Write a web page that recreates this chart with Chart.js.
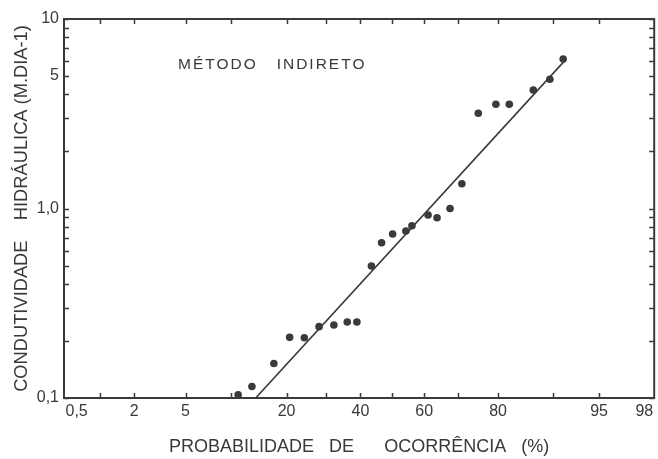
<!DOCTYPE html>
<html>
<head>
<meta charset="utf-8">
<script src="https://cdn.jsdelivr.net/npm/chart.js@4"></script>
<style>
   html, body { margin: 0; padding: 0; background: #fff; }
   #chart { display: block; }
</style>
</head>
<body>
<canvas id="chart" width="658" height="459"></canvas>
<script>
// probabilidade de ocorrencia (%) e condutividade (m/dia)
var probOcorrencia = [11.0, 13.2, 17.3, 20.7, 24.2, 28.0, 32.1, 36.0, 38.9, 43.4, 46.6, 50.1,
   54.3, 56.2, 61.2, 63.9, 67.7, 71.0, 75.3, 79.5, 82.4, 86.9, 89.5, 91.3];
var condutividade = [0.104, 0.115, 0.152, 0.209, 0.208, 0.238, 0.243, 0.252, 0.252, 0.497, 0.66, 0.733,
   0.761, 0.811, 0.924, 0.894, 1.0, 1.35, 3.18, 3.55, 3.55, 4.22, 4.81, 6.15];

// reta ajustada (extremos)
var retaProb = [13.85, 91.5];
var retaK = [0.1, 6.03];

// eixo x (papel de probabilidade)
var xLimites = [0.45, 98.14];
var xMarcas = [1, 2, 5, 10, 20, 30, 40, 50, 60, 70, 80, 90, 95];
var xRotulos = [0.5, 2, 5, 20, 40, 60, 80, 95, 98];
var xTextos = ["0,5", "2", "5", "20", "40", "60", "80", "95", "98"];

// eixo y (log)
var yLimites = [0.1, 10];
var yMarcas = [0.1, 0.2, 0.3, 0.4, 0.5, 0.6, 0.7, 0.8, 0.9, 1, 2, 3, 4, 5, 6, 7, 8, 9, 10];
var yRotulos = { "0.1": "0,1", "1": "1,0", "5": "5", "10": "10" };

var tinta = "#3a3a3a";
var texto = "#393939";
var fonte = "'Liberation Sans', Arial, sans-serif";

// inversa da normal padrao (Acklam)
function zOf(pct) {
   var p = pct / 100;
   var a = [-3.969683028665376e+01, 2.209460984245205e+02, -2.759285104469687e+02, 1.383577518672690e+02, -3.066479806614716e+01, 2.506628277459239e+00];
   var b = [-5.447609879822406e+01, 1.615858368580409e+02, -1.556989798598866e+02, 6.680131188771972e+01, -1.328068155288572e+01];
   var c = [-7.784894002430293e-03, -3.223964580411365e-01, -2.400758277161838e+00, -2.549671416085924e+00, 4.374664141464968e+00, 2.938163982698783e+00];
   var d = [7.784695709041462e-03, 3.224671290700398e-01, 2.445134137142996e+00, 3.754408661907416e+00];
   var plow = 0.02425, q, r;
   if (p < plow) {
      q = Math.sqrt(-2 * Math.log(p));
      return (((((c[0]*q+c[1])*q+c[2])*q+c[3])*q+c[4])*q+c[5]) / ((((d[0]*q+d[1])*q+d[2])*q+d[3])*q+1);
   }
   if (p > 1 - plow) {
      q = Math.sqrt(-2 * Math.log(1 - p));
      return -(((((c[0]*q+c[1])*q+c[2])*q+c[3])*q+c[4])*q+c[5]) / ((((d[0]*q+d[1])*q+d[2])*q+d[3])*q+1);
   }
   q = p - 0.5;
   r = q * q;
   return (((((a[0]*r+a[1])*r+a[2])*r+a[3])*r+a[4])*r+a[5])*q / (((((b[0]*r+b[1])*r+b[2])*r+b[3])*r+b[4])*r+1);
}

var pontos = probOcorrencia.map(function (p, i) { return { x: zOf(p), y: condutividade[i] }; });
var reta = retaProb.map(function (p, i) { return { x: zOf(p), y: retaK[i] }; });

// moldura, marcas internas e rotulos do eixo x
var moldura = {
   id: "moldura",
   beforeDatasetsDraw: function (chart) {
      var ctx = chart.ctx;
      var area = chart.chartArea;
      var sx = chart.scales.x, sy = chart.scales.y;
      ctx.save();
      ctx.strokeStyle = tinta;
      ctx.lineWidth = 1.5;
      ctx.beginPath();
      xMarcas.forEach(function (p) {
         var px = Math.round(sx.getPixelForValue(zOf(p))) + 0.5;
         ctx.moveTo(px, area.bottom); ctx.lineTo(px, area.bottom - 5);
         ctx.moveTo(px, area.top); ctx.lineTo(px, area.top + 5);
      });
      yMarcas.forEach(function (v) {
         var py = Math.round(sy.getPixelForValue(v)) + 0.5;
         ctx.moveTo(area.left, py); ctx.lineTo(area.left + 5, py);
         ctx.moveTo(area.right, py); ctx.lineTo(area.right - 5, py);
      });
      ctx.stroke();
      ctx.lineWidth = 2;
      ctx.strokeRect(area.left, area.top, area.right - area.left, area.bottom - area.top);

      ctx.fillStyle = texto;
      ctx.font = "16px " + fonte;
      ctx.textAlign = "center";
      ctx.textBaseline = "middle";
      xRotulos.forEach(function (p, i) {
         var w = ctx.measureText(xTextos[i]).width;
         var px = sx.getPixelForValue(zOf(p));
         px = Math.max(area.left + w / 2 + 1.5, Math.min(area.right - w / 2 - 1, px));
         ctx.fillText(xTextos[i], px, area.bottom + 14);
      });

      ctx.font = "15.5px " + fonte;
      ctx.letterSpacing = "2px";
      ctx.textAlign = "left";
      ctx.textBaseline = "alphabetic";
      ctx.fillText("MÉTODO   INDIRETO", area.left + 114, area.top + 49.5);
      ctx.restore();
   }
};

var ctx = document.getElementById("chart");
var grafico = new Chart(ctx, {
   type: "scatter",
   data: {
      datasets: [{
         data: pontos,
         backgroundColor: tinta,
         borderColor: tinta,
         pointRadius: 3.8,
         pointHoverRadius: 3.8,
         borderWidth: 0
      }, {
         type: "line",
         data: reta,
         borderColor: tinta,
         borderWidth: 1.6,
         pointRadius: 0,
         fill: false
      }]
   },
   options: {
      responsive: false,
      devicePixelRatio: 1,
      animation: false,
      layout: { padding: { top: 19, right: 2.5, bottom: 0, left: 0 } },
      plugins: { legend: { display: false }, tooltip: { enabled: false } },
      scales: {
         x: {
            type: "linear",
            min: zOf(xLimites[0]),
            max: zOf(xLimites[1]),
            grid: { display: false, drawTicks: false },
            border: { display: false },
            ticks: { display: false },
            afterFit: function (scale) { scale.height = 61; },
            title: {
               display: true,
               text: "PROBABILIDADE   DE      OCORRÊNCIA   (%)",
               color: texto,
               font: { family: fonte, size: 18 },
               padding: { top: 0, bottom: 1 }
            }
         },
         y: {
            type: "logarithmic",
            min: yLimites[0],
            max: yLimites[1],
            grid: { display: false, drawTicks: false },
            border: { display: false },
            afterBuildTicks: function (scale) {
               scale.ticks = yMarcas.map(function (v) { return { value: v }; });
            },
            afterFit: function (scale) { scale.width = 64; },
            ticks: {
               autoSkip: false,
               color: texto,
               padding: 5,
               font: { family: fonte, size: 16 },
               callback: function (value) {
                  var t = yRotulos[String(value)];
                  return t ? t : "";
               }
            },
            title: {
               display: true,
               text: "CONDUTIVIDADE    HIDRÁULICA (M.DIA-1)",
               color: texto,
               font: { family: fonte, size: 18.3 },
               padding: { top: 10.5, bottom: 0 }
            }
         }
      }
   },
   plugins: [moldura]
});
</script>
</body>
</html>
